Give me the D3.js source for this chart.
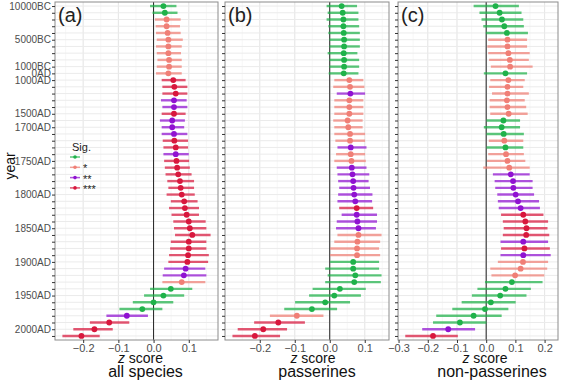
<!DOCTYPE html>
<html>
<head>
<meta charset="utf-8">
<script src="https://cdn.jsdelivr.net/npm/d3@7"></script>
<style>
  body { margin: 0; background: #fff; }
  svg text { font-family: "Liberation Sans", Arial, sans-serif; }
  .tick text { fill: #4d4d4d; }
</style>
</head>
<body>
<div id="chart"></div>
<script>
// Categories (one row per period, top to bottom)
var years = ["10000BC", "9000BC", "8000BC", "7000BC", "6000BC", "5000BC", "4000BC", "3000BC", "2000BC", "1000BC",
  "0AD", "1000AD", "1100AD", "1200AD", "1300AD", "1400AD", "1500AD", "1600AD", "1700AD", "1710AD",
  "1720AD", "1730AD", "1740AD", "1750AD", "1760AD", "1770AD", "1780AD", "1790AD", "1800AD", "1810AD",
  "1820AD", "1830AD", "1840AD", "1850AD", "1860AD", "1870AD", "1880AD", "1890AD", "1900AD", "1910AD",
  "1920AD", "1930AD", "1940AD", "1950AD", "1960AD", "1970AD", "1980AD", "1990AD", "2000AD", "2010AD"];

var yearTicks = ["10000BC", "5000BC", "1000BC", "0AD", "1000AD", "1500AD", "1700AD", "1750AD",
  "1800AD", "1850AD", "1900AD", "1950AD", "2000AD"];

var sigLabels = ["", "*", "**", "***"];
var sigColors = ["#1fb24a", "#f07f76", "#9012d1", "#d8173d"];

// (a) all species
var allEst = [0.028, 0.032, 0.037, 0.037, 0.040, 0.042, 0.042, 0.042, 0.044, 0.044,
  0.042, 0.056, 0.059, 0.063, 0.058, 0.058, 0.058, 0.053, 0.053, 0.058,
  0.059, 0.063, 0.063, 0.065, 0.067, 0.070, 0.075, 0.077, 0.080, 0.087,
  0.089, 0.094, 0.100, 0.103, 0.110, 0.100, 0.100, 0.098, 0.096, 0.091,
  0.086, 0.080, 0.049, 0.028, 0.000, -0.032, -0.076, -0.126, -0.168, -0.205];
var allLo = [-0.010, -0.003, 0.004, 0.006, 0.007, 0.009, 0.007, 0.009, 0.011, 0.009,
  0.007, 0.023, 0.025, 0.025, 0.021, 0.025, 0.023, 0.018, 0.023, 0.023,
  0.026, 0.028, 0.028, 0.030, 0.032, 0.034, 0.039, 0.042, 0.037, 0.049,
  0.044, 0.051, 0.056, 0.058, 0.061, 0.049, 0.047, 0.044, 0.042, 0.030,
  0.026, 0.025, -0.010, -0.027, -0.059, -0.097, -0.134, -0.181, -0.228, -0.259];
var allHi = [0.065, 0.068, 0.077, 0.075, 0.077, 0.083, 0.080, 0.078, 0.080, 0.080,
  0.080, 0.091, 0.096, 0.096, 0.094, 0.096, 0.091, 0.089, 0.087, 0.096,
  0.098, 0.098, 0.100, 0.101, 0.103, 0.108, 0.115, 0.115, 0.117, 0.125,
  0.129, 0.129, 0.148, 0.150, 0.162, 0.150, 0.150, 0.157, 0.155, 0.147,
  0.150, 0.147, 0.110, 0.087, 0.056, 0.025, -0.016, -0.069, -0.116, -0.153];
var allSig = [0, 0, 1, 1, 1, 1, 1, 1, 1, 1,
  1, 3, 3, 3, 2, 2, 3, 2, 2, 2,
  3, 3, 2, 3, 3, 3, 3, 3, 3, 3,
  3, 3, 3, 3, 3, 3, 3, 3, 3, 2,
  2, 1, 0, 0, 0, 0, 2, 3, 3, 3];

// (b) passerines
var passEst = [0.034, 0.037, 0.039, 0.039, 0.040, 0.041, 0.041, 0.040, 0.041, 0.041,
  0.040, 0.056, 0.058, 0.059, 0.056, 0.056, 0.056, 0.051, 0.053, 0.058,
  0.058, 0.060, 0.060, 0.062, 0.063, 0.065, 0.067, 0.068, 0.070, 0.073,
  0.077, 0.077, 0.079, 0.082, 0.082, 0.079, 0.078, 0.078, 0.067, 0.067,
  0.073, 0.070, 0.029, 0.013, -0.013, -0.051, -0.094, -0.147, -0.190, -0.214];
var passLo = [-0.009, -0.006, -0.009, -0.004, -0.004, -0.001, -0.001, -0.006, -0.001, -0.001,
  -0.003, 0.013, 0.010, 0.020, 0.013, 0.013, 0.013, 0.010, 0.013, 0.013,
  0.016, 0.022, 0.018, 0.013, 0.020, 0.022, 0.024, 0.027, 0.024, 0.022,
  0.027, 0.034, 0.020, 0.018, 0.022, 0.013, 0.001, 0.001, 0.001, -0.013,
  -0.006, -0.013, -0.049, -0.059, -0.099, -0.130, -0.171, -0.216, -0.263, -0.278];
var passHi = [0.078, 0.082, 0.082, 0.084, 0.086, 0.086, 0.086, 0.079, 0.084, 0.084,
  0.082, 0.096, 0.099, 0.101, 0.096, 0.096, 0.096, 0.094, 0.094, 0.101,
  0.101, 0.105, 0.101, 0.103, 0.105, 0.113, 0.111, 0.115, 0.122, 0.121,
  0.124, 0.135, 0.135, 0.132, 0.148, 0.144, 0.141, 0.144, 0.141, 0.141,
  0.148, 0.146, 0.103, 0.089, 0.058, 0.021, -0.018, -0.071, -0.122, -0.142];
var passSig = [0, 0, 0, 0, 0, 0, 0, 0, 0, 0,
  0, 1, 1, 2, 1, 1, 1, 1, 1, 1,
  1, 2, 1, 1, 2, 2, 2, 2, 2, 2,
  3, 2, 2, 2, 1, 1, 1, 1, 0, 0,
  0, 0, 0, 0, 0, 0, 1, 3, 3, 3];

// (c) non-passerines
var nonEst = [0.032, 0.046, 0.054, 0.062, 0.071, 0.073, 0.073, 0.076, 0.081, 0.082,
  0.066, 0.076, 0.073, 0.073, 0.071, 0.073, 0.077, 0.059, 0.053, 0.060,
  0.062, 0.066, 0.068, 0.073, 0.079, 0.084, 0.092, 0.093, 0.101, 0.109,
  0.118, 0.127, 0.134, 0.138, 0.137, 0.127, 0.131, 0.127, 0.126, 0.118,
  0.099, 0.088, 0.066, 0.048, 0.016, -0.004, -0.043, -0.090, -0.130, -0.182];
var nonLo = [-0.043, -0.023, -0.016, -0.010, -0.001, 0.007, 0.004, 0.007, 0.010, 0.016,
  -0.008, 0.014, 0.010, 0.020, 0.012, 0.012, 0.014, 0.001, -0.008, 0.001,
  0.009, 0.001, 0.007, 0.003, -0.010, 0.023, 0.029, 0.031, 0.038, 0.040,
  0.043, 0.051, 0.057, 0.060, 0.057, 0.049, 0.051, 0.049, 0.040, 0.014,
  0.018, -0.004, -0.030, -0.049, -0.084, -0.116, -0.171, -0.182, -0.219, -0.277];
var nonHi = [0.112, 0.121, 0.127, 0.129, 0.143, 0.140, 0.140, 0.149, 0.146, 0.159,
  0.140, 0.132, 0.127, 0.146, 0.132, 0.137, 0.142, 0.116, 0.116, 0.129,
  0.127, 0.127, 0.129, 0.134, 0.149, 0.149, 0.159, 0.159, 0.164, 0.181,
  0.184, 0.196, 0.212, 0.210, 0.216, 0.212, 0.218, 0.221, 0.212, 0.209,
  0.199, 0.193, 0.153, 0.138, 0.101, 0.076, 0.053, 0.001, -0.038, -0.097];
var nonSig = [0, 0, 0, 0, 0, 1, 1, 1, 1, 1,
  0, 1, 1, 1, 1, 1, 1, 0, 0, 0,
  1, 0, 1, 1, 1, 2, 2, 2, 2, 2,
  2, 3, 3, 3, 3, 2, 3, 2, 1, 1,
  1, 0, 0, 0, 0, 0, 0, 0, 2, 3];

var svgWidth = 564;
var svgHeight = 386;
var plotTop = 2;
var plotBottom = 340;

// zShift / tShift: the titles under each panel sit a little right of the panel centre
var panels = [
  {tag: "(a)", title: "all species", est: allEst, lo: allLo, hi: allHi, sig: allSig, left: 55, right: 218, zShift: 4, tShift: 9},
  {tag: "(b)", title: "passerines", est: passEst, lo: passLo, hi: passHi, sig: passSig, left: 225, right: 389, zShift: 6, tShift: 10},
  {tag: "(c)", title: "non-passerines", est: nonEst, lo: nonLo, hi: nonHi, sig: nonSig, left: 398, right: 558, zShift: 7, tShift: 14}
];

var svg = d3.select("#chart")
  .append("svg")
  .attr("width", svgWidth)
  .attr("height", svgHeight);

// Shared y scale (discrete rows)
var yScale = d3.scalePoint()
  .domain(years)
  .range([plotTop, plotBottom])
  .padding(0.6);

panels.forEach(function(p, pi) {
  var w = p.right - p.left;
  var h = plotBottom - plotTop;

  // x domain from data with 5% padding like ggplot
  var xmin = d3.min(p.lo), xmax = d3.max(p.hi);
  var pad = (xmax - xmin) * 0.05;
  var xScale = d3.scaleLinear()
    .domain([xmin - pad, xmax + pad])
    .range([0, w]);

  var g = svg.append("g")
    .attr("transform", `translate(${p.left}, 0)`);

  // panel background
  g.append("rect")
    .attr("x", 0).attr("y", plotTop)
    .attr("width", w).attr("height", h)
    .attr("fill", "#fff");

  // minor vertical grid
  g.selectAll(".minor")
    .data(xScale.ticks(10))
    .enter().append("line")
    .attr("x1", d => xScale(d)).attr("x2", d => xScale(d))
    .attr("y1", plotTop).attr("y2", plotBottom)
    .attr("stroke", "#f2f2f2").attr("stroke-width", 0.6);

  // major vertical grid
  g.selectAll(".majorx")
    .data(xScale.ticks(5))
    .enter().append("line")
    .attr("x1", d => xScale(d)).attr("x2", d => xScale(d))
    .attr("y1", plotTop).attr("y2", plotBottom)
    .attr("stroke", "#e6e6e6").attr("stroke-width", 1);

  // horizontal grid, one per row
  g.selectAll(".majory")
    .data(years)
    .enter().append("line")
    .attr("x1", 0).attr("x2", w)
    .attr("y1", d => yScale(d)).attr("y2", d => yScale(d))
    .attr("stroke", "#ebebeb").attr("stroke-width", 1);

  // zero line
  g.append("line")
    .attr("x1", xScale(0)).attr("x2", xScale(0))
    .attr("y1", plotTop).attr("y2", plotBottom)
    .attr("stroke", "#222").attr("stroke-width", 1);

  // error bars
  g.selectAll(".bar")
    .data(years)
    .enter().append("line")
    .attr("x1", (d, i) => xScale(p.lo[i]))
    .attr("x2", (d, i) => xScale(p.hi[i]))
    .attr("y1", d => yScale(d)).attr("y2", d => yScale(d))
    .attr("stroke", (d, i) => sigColors[p.sig[i]])
    .attr("stroke-opacity", 0.72)
    .attr("stroke-width", 2.4);

  // points
  g.selectAll(".pt")
    .data(years)
    .enter().append("circle")
    .attr("cx", (d, i) => xScale(p.est[i]))
    .attr("cy", d => yScale(d))
    .attr("r", 2.9)
    .attr("fill", (d, i) => sigColors[p.sig[i]]);

  // border
  g.append("rect")
    .attr("x", 0).attr("y", plotTop)
    .attr("width", w).attr("height", h)
    .attr("fill", "none")
    .attr("stroke", "#8c8c8c").attr("stroke-width", 1);

  // axes
  var bottomAxis = d3.axisBottom(xScale)
    .ticks(5)
    .tickSize(3)
    .tickFormat(d3.format(".1f"));
  var xaxis = g.append("g")
    .attr("transform", `translate(0, ${plotBottom})`)
    .call(bottomAxis);
  xaxis.select(".domain").remove();
  xaxis.selectAll("line").attr("stroke", "#333");
  xaxis.selectAll("text").attr("font-size", "11px").attr("dy", "0.72em").attr("y", 4);

  var leftAxis = d3.axisLeft(yScale)
    .tickSize(3)
    .tickFormat(d => (pi === 0 && yearTicks.indexOf(d) >= 0) ? d : "");
  var yaxis = g.append("g").call(leftAxis);
  yaxis.select(".domain").remove();
  yaxis.selectAll("line").attr("stroke", "#333");
  yaxis.selectAll("text").attr("font-size", "10px").attr("x", -4);

  // panel tag
  g.append("text")
    .attr("x", 3).attr("y", 22)
    .attr("font-size", "20px")
    .attr("fill", "#222")
    .text(p.tag);

  // axis titles
  var xt = g.append("text")
    .attr("x", w / 2 + p.zShift).attr("y", 363)
    .attr("text-anchor", "middle")
    .attr("font-size", "14px")
    .attr("fill", "#111");
  xt.append("tspan").attr("font-style", "italic").text("z");
  xt.append("tspan").text(" score");

  g.append("text")
    .attr("x", w / 2 + p.tShift).attr("y", 377)
    .attr("text-anchor", "middle")
    .attr("font-size", "16px")
    .attr("fill", "#111")
    .text(p.title);
});

// y axis title
svg.append("text")
  .attr("transform", "translate(15, 166) rotate(-90)")
  .attr("text-anchor", "middle")
  .attr("font-size", "14px")
  .attr("fill", "#111")
  .text("year");

// legend
var legend = svg.append("g")
  .attr("transform", "translate(70, 157)");

legend.append("text")
  .attr("x", 2).attr("y", -6)
  .attr("font-size", "11px")
  .attr("fill", "#222")
  .text("Sig.");

var keys = legend.selectAll(".key")
  .data(sigLabels)
  .enter().append("g")
  .attr("transform", (d, i) => `translate(0, ${i * 10.3})`);

keys.append("line")
  .attr("x1", 0).attr("x2", 10)
  .attr("stroke", (d, i) => sigColors[i])
  .attr("stroke-opacity", 0.72)
  .attr("stroke-width", 1.5);

keys.append("circle")
  .attr("cx", 5).attr("r", 1.8)
  .attr("fill", (d, i) => sigColors[i]);

keys.append("text")
  .attr("x", 13).attr("y", 5)
  .attr("font-size", "11px")
  .attr("fill", "#222")
  .text(d => d);
</script>
</body>
</html>
